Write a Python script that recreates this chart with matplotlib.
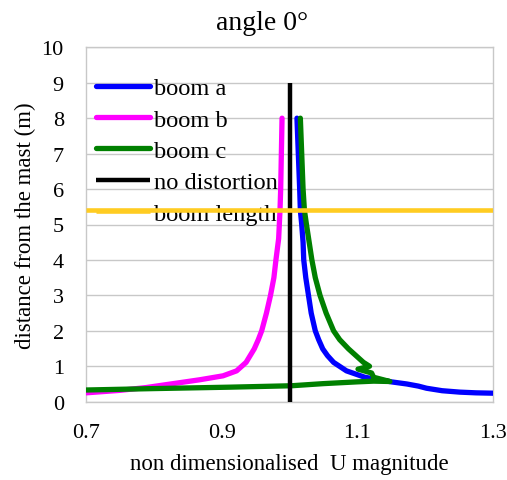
import matplotlib
matplotlib.use("Agg")
import matplotlib.pyplot as plt

plt.rcParams['font.family'] = ['Liberation Serif', 'DejaVu Serif']

# Velocity profiles along each boom: (U / U_ref, height in m)
boom_a_u = [1.011, 1.012, 1.013, 1.014, 1.015, 1.016, 1.018, 1.020, 1.021, 1.024,
            1.028, 1.032, 1.038, 1.043, 1.049, 1.056, 1.065, 1.084, 1.111, 1.150,
            1.173, 1.190, 1.202, 1.225, 1.251, 1.275, 1.300]
boom_a_z = [8.0, 7.5, 7.0, 6.5, 6.0, 5.4, 5.0, 4.5, 4.0, 3.5,
            3.0, 2.5, 2.0, 1.75, 1.49, 1.3, 1.11, 0.87, 0.69, 0.56,
            0.50, 0.44, 0.38, 0.31, 0.27, 0.25, 0.24]

boom_b_u = [0.989, 0.988, 0.987, 0.986, 0.984, 0.980, 0.977, 0.972, 0.966, 0.959,
            0.954, 0.948, 0.936, 0.922, 0.902, 0.868, 0.843, 0.814, 0.789, 0.750,
            0.700]
boom_b_z = [8.0, 7.0, 6.0, 5.4, 4.6, 4.0, 3.5, 3.0, 2.5, 2.0,
            1.75, 1.49, 1.11, 0.87, 0.73, 0.62, 0.55, 0.47, 0.40, 0.32,
            0.25]

boom_c_u = [1.016, 1.017, 1.018, 1.019, 1.020, 1.022, 1.025, 1.029, 1.033, 1.038,
            1.045, 1.054, 1.065, 1.074, 1.087, 1.109, 1.118, 1.101, 1.121, 1.124,
            1.148, 1.124, 1.100, 1.050, 1.003, 0.912, 0.800, 0.700]
boom_c_z = [8.0, 7.5, 7.0, 6.5, 6.0, 5.4, 5.0, 4.5, 4.0, 3.5,
            3.0, 2.5, 2.0, 1.75, 1.49, 1.11, 1.0, 0.92, 0.81, 0.69,
            0.57, 0.58, 0.56, 0.51, 0.45, 0.41, 0.37, 0.33]

no_dist_u = [1.0, 1.0]
no_dist_z = [0.0, 9.0]

boom_len_u = [0.7, 1.3]
boom_len_z = [5.4, 5.4]

x_ticks = [0.7, 0.9, 1.1, 1.3]
y_ticks = list(range(0, 11))

W, H = 507, 481
fig = plt.figure(figsize=(W / 100, H / 100), dpi=100)
ax = fig.add_axes([86 / W, 1 - 402.7 / H, 407 / W, 354.4 / H])

lw = 3.8
style = dict(lw=lw, solid_capstyle='round', solid_joinstyle='round')
la, = ax.plot(boom_a_u, boom_a_z, color='#0000FF', label='boom a', zorder=3, **style)
lb, = ax.plot(boom_b_u, boom_b_z, color='#FF00FF', label='boom b', zorder=3, **style)
lc, = ax.plot(boom_c_u, boom_c_z, color='#008000', label='boom c', zorder=4, **style)
ln, = ax.plot(no_dist_u, no_dist_z, color='black', lw=3.2, solid_capstyle='butt',
              label='no distortion', zorder=5)
ll, = ax.plot(boom_len_u, boom_len_z, color='#FFCC22', lw=3.3, solid_capstyle='butt',
              label='boom length', zorder=6)

ax.set_xlim(0.7, 1.3)
ax.set_ylim(0, 10)
ax.set_xticks(x_ticks)
ax.set_xticklabels([f"{v:.1f}" for v in x_ticks])
ax.set_yticks(y_ticks)
ax.tick_params(length=0, labelsize=16)
ax.tick_params(axis='x', pad=15)
ax.tick_params(axis='y', pad=16)
ax.yaxis.grid(True, color='#C8C8C8', lw=1.0)
ax.set_axisbelow(True)
for s in ax.spines.values():
    s.set_color('#C8C8C8')
    s.set_linewidth(1.0)

fig.text(262 / W, 1 - 30 / H, 'angle 0°', fontsize=20, ha='center', va='baseline')
ax.set_xlabel('non dimensionalised  U magnitude', fontsize=16.5, labelpad=8)
ax.set_ylabel('distance from the mast (m)', fontsize=16.5, labelpad=4)

leg = ax.legend(handles=[la, lb, lc, ln, ll], loc='upper left',
                bbox_to_anchor=(96 / W, 1 - 78 / H), bbox_transform=fig.transFigure,
                frameon=False, fontsize=17.6, handlelength=2.2, handletextpad=0.16,
                labelspacing=0.38, borderpad=0, borderaxespad=0)
leg.set_zorder(2)

fig.savefig('out.png', dpi=100)
